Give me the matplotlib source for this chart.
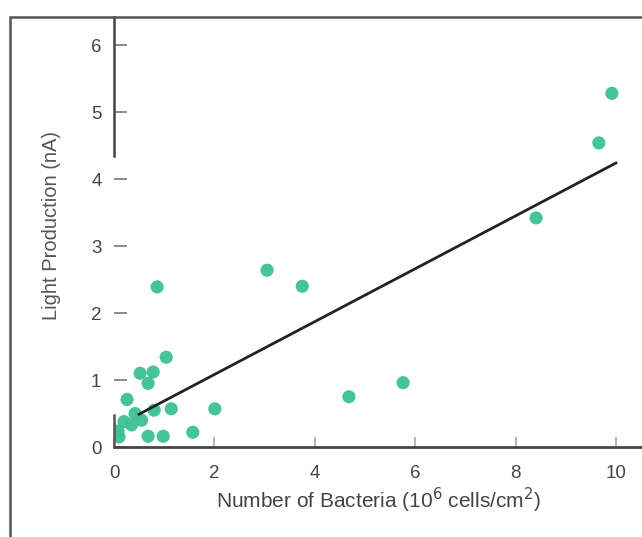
import numpy as np
import matplotlib
matplotlib.use('Agg')
import matplotlib.pyplot as plt
from matplotlib.patches import Rectangle

plt.rcParams['font.family'] = ['Liberation Sans', 'DejaVu Sans']

# bacteria count (10^6 cells/cm^2) vs light production (nA)
bacteria = [9.92, 9.66, 8.41, 5.76, 4.68, 3.75, 3.05, 2.01, 1.57,
            1.04, 0.86, 0.78, 0.68, 0.52, 1.14, 0.80, 0.98, 0.68,
            0.26, 0.42, 0.20, 0.08, 0.35, 0.55, 0.10]
light = [5.28, 4.54, 3.42, 0.96, 0.75, 2.40, 2.64, 0.57, 0.22,
         1.34, 2.39, 1.12, 0.95, 1.10, 0.57, 0.55, 0.16, 0.16,
         0.71, 0.50, 0.38, 0.24, 0.33, 0.40, 0.15]

# fitted line end points
fit_x = [0.5, 10.0]
fit_y = [0.49, 4.24]

xticks = [0, 2, 4, 6, 8, 10]
yticks = [0, 1, 2, 3, 4, 5, 6]

fig = plt.figure(figsize=(6.42, 5.37), dpi=100)
ax = fig.add_axes([114 / 642, 90 / 537, 528 / 642, 430 / 537])

ax.scatter(bacteria, light, s=90, color='#3cc194', edgecolors='none', alpha=0.95, zorder=3)
ax.plot(fit_x, fit_y, color='#222222', lw=2.0, zorder=4)

ax.set_xlim(0, 10.52)
ax.set_ylim(0, 6.42)
ax.set_xticks(xticks)
ax.set_yticks(yticks)

for s in ['top', 'right']:
    ax.spines[s].set_visible(False)
ax.spines['bottom'].set_color('#444444')
ax.spines['bottom'].set_linewidth(2)
ax.spines['left'].set_color('#444444')
ax.spines['left'].set_linewidth(1.8)
ax.spines['left'].set_bounds(4.35, 6.42)
# lower piece of the broken y axis line
ax.plot([0, 0], [0, 0.48], color='#555555', lw=1.8, clip_on=False, zorder=5)

ax.tick_params(axis='x', direction='in', length=7, width=1.2, color='#aaaaaa',
               labelsize=13.5, labelcolor='#444444', pad=13)
ax.tick_params(axis='y', direction='in', length=9, width=1.2, color='#777777',
               labelsize=13.5, labelcolor='#444444', pad=9)

ax.set_xlabel('Number of Bacteria (10$^6$ cells/cm$^2$)', fontsize=15,
              color='#444444', labelpad=3)
ax.set_ylabel('Light Production (nA)', fontsize=14.5, color='#555555')
ax.yaxis.set_label_coords(-53 / 528, (447 - 225) / 430)

# outer frame of the figure panel
fig.patches.append(Rectangle((10 / 642, -0.2), 1.2, 1.2 - 17 / 537,
                             transform=fig.transFigure, fill=False,
                             edgecolor='#555555', lw=1.8))

fig.savefig('out.png', dpi=100)
